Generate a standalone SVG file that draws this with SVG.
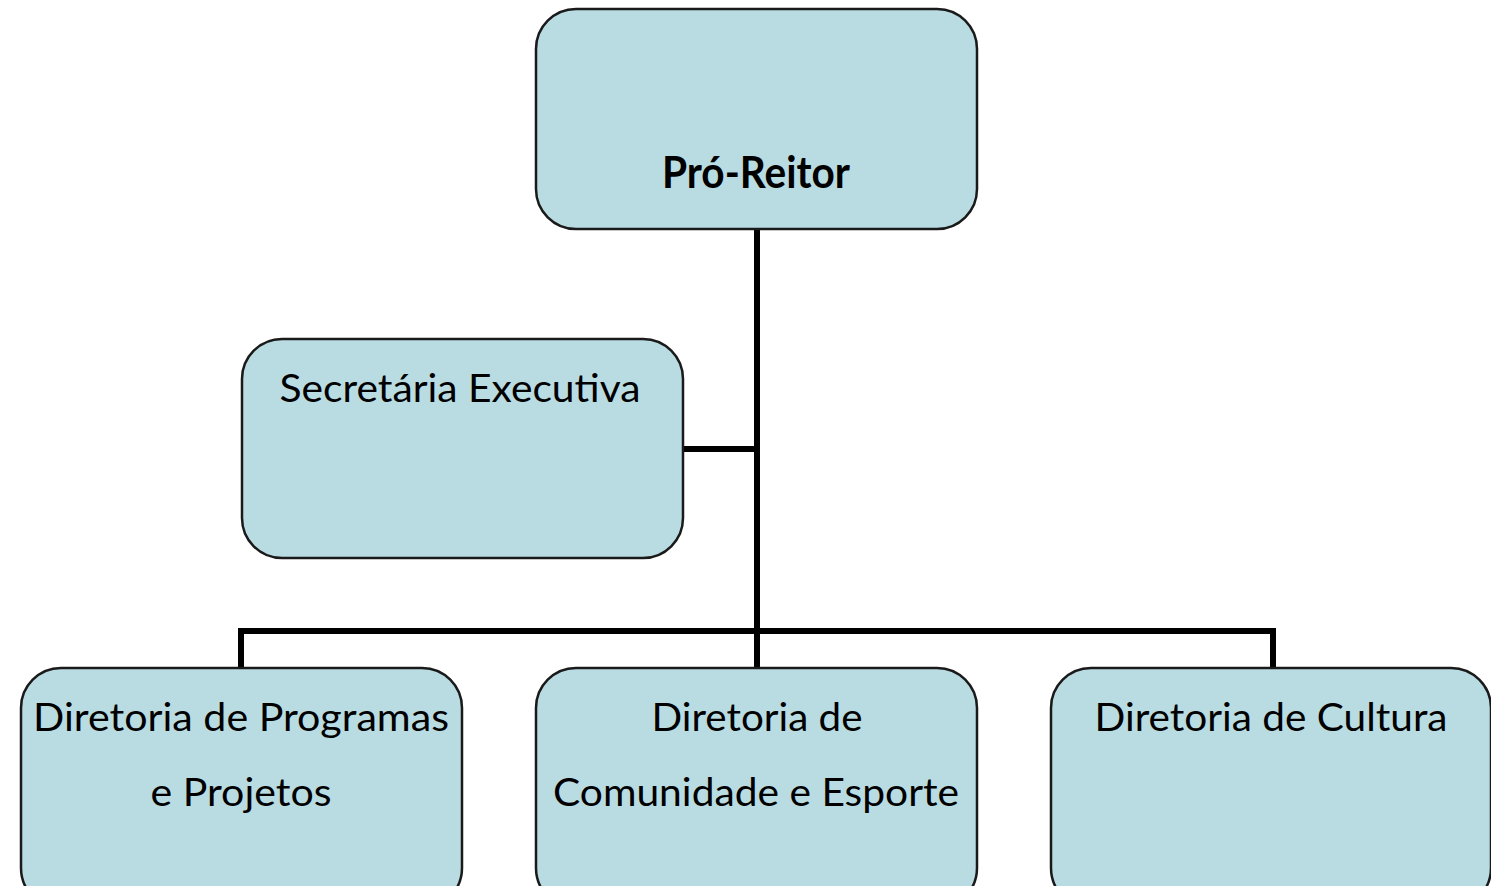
<svg xmlns="http://www.w3.org/2000/svg" width="1491" height="886" viewBox="0 0 1491 886">
<style>
.box{fill:#B9DCE2;stroke:#1a1a1a;stroke-width:2.5}
.t{font-family:Lato,"Open Sans","Liberation Sans",sans-serif;font-size:38px;fill:#000;text-anchor:middle}
.b{font-weight:bold;font-size:44px}
.c{fill:none;stroke:#000;stroke-width:6;stroke-linecap:butt;stroke-linejoin:miter}
</style>
<rect width="1491" height="886" fill="#fff"/>
<g id="connectors">
<path class="c" d="M757 229 V668"/>
<path class="c" d="M683 449 H757"/>
<path class="c" d="M241 668 V631 H1273 V668"/>
</g>
<g id="pro-reitor">
<rect class="box" x="536" y="9" width="441" height="220" rx="40"/>
<text class="t b" x="756" y="188" textLength="188" lengthAdjust="spacingAndGlyphs">Pró-Reitor</text>
</g>
<g id="secretaria">
<rect class="box" x="242" y="339" width="441" height="219" rx="40"/>
<text class="t" x="460" y="402" textLength="361" lengthAdjust="spacingAndGlyphs">Secretária Executiva</text>
</g>
<g id="dir-programas">
<rect class="box" x="21" y="668" width="441" height="240" rx="40"/>
<text class="t" x="241" y="731" textLength="416" lengthAdjust="spacingAndGlyphs">Diretoria de Programas</text>
<text class="t" x="241" y="806" textLength="181" lengthAdjust="spacingAndGlyphs">e Projetos</text>
</g>
<g id="dir-comunidade">
<rect class="box" x="536" y="668" width="441" height="240" rx="40"/>
<text class="t" x="757" y="731" textLength="211" lengthAdjust="spacingAndGlyphs">Diretoria de</text>
<text class="t" x="756" y="806" textLength="406" lengthAdjust="spacingAndGlyphs">Comunidade e Esporte</text>
</g>
<g id="dir-cultura">
<rect class="box" x="1051" y="668" width="440" height="240" rx="40"/>
<text class="t" x="1271" y="731" textLength="353" lengthAdjust="spacingAndGlyphs">Diretoria de Cultura</text>
</g>
</svg>
